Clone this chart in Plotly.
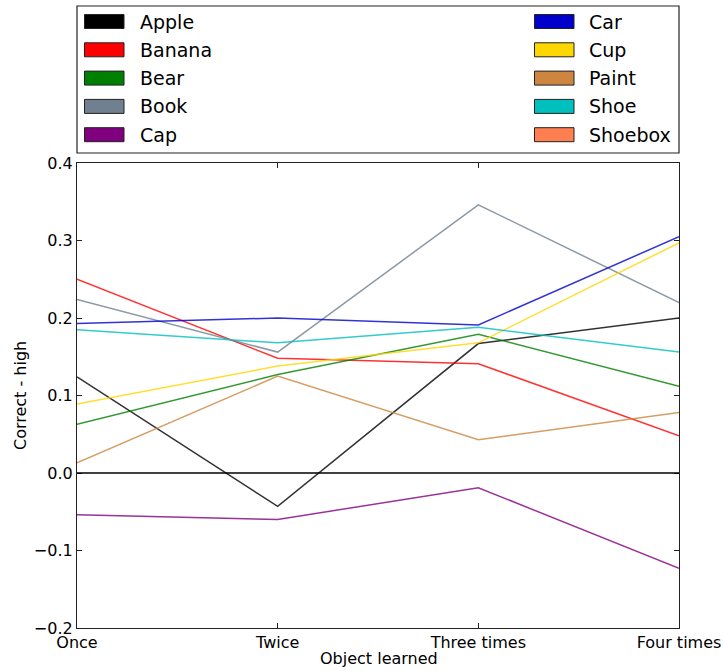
import plotly.graph_objects as go

# Learning condition on the x axis
conditions = ["Once", "Twice", "Three times", "Four times"]

# Difference in proportion correct (high) per object
apple = [0.124, -0.043, 0.167, 0.200]
banana = [0.250, 0.148, 0.141, 0.048]
bear = [0.063, 0.127, 0.179, 0.112]
book = [0.224, 0.156, 0.346, 0.220]
cap = [-0.054, -0.060, -0.019, -0.123]
car = [0.193, 0.200, 0.191, 0.305]
cup = [0.089, 0.138, 0.168, 0.297]
paint = [0.013, 0.125, 0.043, 0.078]
shoe = [0.185, 0.168, 0.188, 0.156]
shoebox = [None, None, None, None]

objects = ["Apple", "Banana", "Bear", "Book", "Cap",
           "Car", "Cup", "Paint", "Shoe", "Shoebox"]
series = [apple, banana, bear, book, cap, car, cup, paint, shoe, shoebox]
colors = ["#000000", "#FF0000", "#008000", "#708090", "#800080",
          "#0000CD", "#FFD700", "#CD853F", "#00BFBF", "#FF7F50"]

FONT = "DejaVu Sans"
W, H = 724, 671
L, R, T, B = 77, 45, 163, 43  # plot-area margins in pixels
PW, PH = W - L - R, H - T - B


def px(x):
    return (x - L) / PW


def py(y):
    return (H - B - y) / PH


xpos = list(range(len(conditions)))

fig = go.Figure()
for name, vals, col in zip(objects, series, colors):
    fig.add_trace(go.Scatter(
        x=xpos, y=vals, mode="lines", name=name,
        line=dict(color=col, width=1.5), opacity=0.8,
        showlegend=False, hoverinfo="x+y+name"))

shapes = []
annotations = []

# Reference line at zero
shapes.append(dict(type="line", xref="paper", yref="y", x0=0, x1=1, y0=0, y1=0,
                   line=dict(color="black", width=1.5), layer="above"))

# Legend frame above the axes
shapes.append(dict(type="rect", xref="paper", yref="paper",
                   x0=px(77), x1=px(679), y0=py(153), y1=py(6),
                   line=dict(color="#222222", width=1.2),
                   fillcolor="rgba(0,0,0,0)", layer="above"))
row_top, row_step = 14.5, 28.3
for i, (name, col) in enumerate(zip(objects, colors)):
    col_i, row_i = divmod(i, 5)
    x0 = 84.5 if col_i == 0 else 534.5
    tx = 137.5 if col_i == 0 else 587
    y0 = row_top + row_i * row_step
    shapes.append(dict(type="rect", xref="paper", yref="paper",
                       x0=px(x0), x1=px(x0 + 39.5), y0=py(y0 + 14), y1=py(y0),
                       line=dict(color="#222222", width=1), fillcolor=col))
    annotations.append(dict(text=name, xref="paper", yref="paper",
                            x=px(tx), y=py(y0 + 7), xanchor="left", yanchor="middle",
                            showarrow=False, font=dict(family=FONT, size=19, color="black")))

# Axis titles
annotations.append(dict(text="Object learned", xref="paper", yref="paper",
                        x=px(379), y=py(658), xanchor="center", yanchor="middle",
                        showarrow=False, font=dict(family=FONT, size=16, color="black")))
annotations.append(dict(text="Correct - high", xref="paper", yref="paper",
                        x=px(20), y=py(396), xanchor="center", yanchor="middle",
                        textangle=-90, showarrow=False,
                        font=dict(family=FONT, size=16, color="black")))

fig.update_layout(
    width=W, height=H,
    margin=dict(l=L, r=R, t=T, b=B, pad=0, autoexpand=False),
    paper_bgcolor="white", plot_bgcolor="white",
    font=dict(family=FONT, size=16, color="black"),
    shapes=shapes, annotations=annotations,
    showlegend=False,
)
fig.update_xaxes(
    range=[0, 3], tickvals=xpos, ticktext=conditions,
    showgrid=False, zeroline=False, automargin=False,
    showline=True, linecolor="#222222", linewidth=1.2, mirror="ticks",
    ticks="inside", ticklen=5, tickcolor="#222222",
    tickfont=dict(family=FONT, size=16),
)
fig.update_yaxes(
    range=[-0.2, 0.4], dtick=0.1, tickformat=".1f",
    showgrid=False, zeroline=False, automargin=False,
    showline=True, linecolor="#222222", linewidth=1.2, mirror="ticks",
    ticks="inside", ticklen=5, tickcolor="#222222",
    tickfont=dict(family=FONT, size=16),
)

fig.write_html("out.html")
